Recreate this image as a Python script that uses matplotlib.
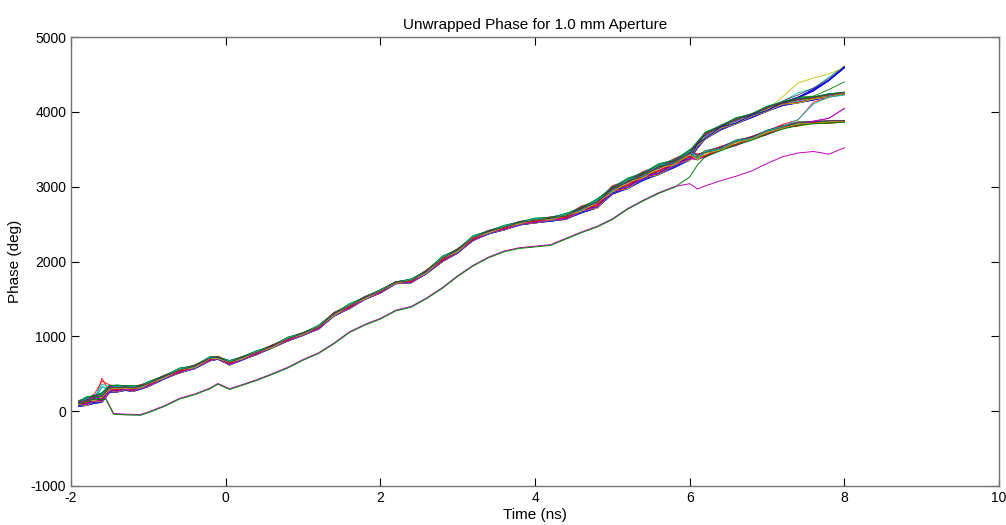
import numpy as np
import matplotlib
matplotlib.use('Agg')
import matplotlib.pyplot as plt

plt.rcParams['font.family'] = ['Liberation Sans', 'DejaVu Sans']
plt.rcParams['axes.unicode_minus'] = False

# main (upper) bundle
t_up = [-1.9, -1.8, -1.7, -1.6, -1.5, -1.4, -1.3, -1.2, -1.1, -1.0, -0.8, -0.6, -0.4,
        -0.2, -0.1, 0.05, 0.2, 0.4, 0.6, 0.8, 1.0, 1.2, 1.4, 1.6, 1.8, 2.0, 2.2, 2.4,
        2.6, 2.8, 3.0, 3.2, 3.4, 3.6, 3.8, 4.0, 4.2, 4.4, 4.6, 4.8, 5.0, 5.2, 5.4, 5.6, 5.8]
phase_up = [100, 130, 160, 180, 300, 300, 310, 300, 320, 360, 450, 540, 590,
            700, 710, 645, 700, 780, 860, 960, 1030, 1120, 1290, 1400, 1510, 1600, 1715, 1740,
            1860, 2030, 2140, 2310, 2390, 2450, 2510, 2545, 2565, 2600, 2690, 2770, 2950, 3040, 3140, 3230, 3310]
# width of the bundle along time and how the traces cross inside it (deg)
spread_up = [40, 50, 60, 60, 50, 40, 35, 35, 30, 30, 25, 25, 25, 25, 20, 25, 25, 20, 20, 20,
             20, 20, 25, 25, 20, 20, 15, 20, 25, 30, 30, 25, 25, 25, 25, 25, 30, 30, 45, 50,
             55, 60, 60, 60, 60]
twist_up = [20, -25, 30, -20, 15, -20, 10, -15, 20, -10, 15, -20, 15, -10, 15, -15, 10, -15, 20, -15,
            10, -15, 20, -20, 15, -10, 10, -15, 20, -20, 15, -20, 15, -15, 10, -20, 15, -25, 30, -30,
            35, -30, 30, -35, 30]

# lower pair of traces
t_low = [-1.9, -1.8, -1.7, -1.55, -1.45, -1.3, -1.1, -1.0, -0.8, -0.6, -0.4, -0.2, -0.1,
         0.05, 0.2, 0.4, 0.6, 0.8, 1.0, 1.2, 1.4, 1.6, 1.8, 2.0, 2.2, 2.4, 2.6, 2.8, 3.0,
         3.2, 3.4, 3.6, 3.8, 4.0, 4.2, 4.4, 4.6, 4.8, 5.0, 5.2, 5.4, 5.6, 5.8]
phase_low = [100, 130, 160, 160, -40, -50, -55, -20, 60, 160, 220, 300, 360,
             290, 340, 410, 490, 575, 680, 770, 900, 1050, 1150, 1230, 1340, 1390, 1505, 1640, 1800,
             1940, 2050, 2130, 2175, 2195, 2215, 2300, 2385, 2460, 2560, 2700, 2810, 2910, 2990]

# branch tails after the split near 6 ns
t_tail = [6.0, 6.1, 6.2, 6.4, 6.6, 6.8, 7.0, 7.2, 7.4, 7.6, 7.8, 8.0]
tail_top = [3420, 3560, 3680, 3790, 3880, 3950, 4040, 4120, 4220, 4300, 4440, 4600]
tail_mid = [3420, 3560, 3680, 3790, 3880, 3950, 4040, 4110, 4150, 4180, 4220, 4250]
tail_low = [3420, 3380, 3430, 3500, 3580, 3640, 3720, 3790, 3830, 3850, 3860, 3870]
tail_yel = [3420, 3560, 3680, 3790, 3880, 3960, 4060, 4220, 4420, 4470, 4530, 4600]
tail_drift = [3420, 3380, 3430, 3500, 3580, 3640, 3720, 3800, 3870, 4100, 4180, 4220]
tail_lowup = [3420, 3380, 3430, 3500, 3580, 3640, 3720, 3790, 3840, 3880, 3930, 4050]
tail_midhi = [3420, 3560, 3680, 3790, 3880, 3950, 4040, 4120, 4170, 4210, 4280, 4400]
tail_green = [3130, 3290, 3400, 3480, 3560, 3620, 3700, 3770, 3820, 3840, 3850, 3860]
tail_magenta = [3030, 2960, 3000, 3070, 3130, 3200, 3300, 3390, 3440, 3460, 3425, 3510]
spread_tail = [60, 50, 40, 35, 35, 30, 30, 30, 30, 25, 20, 15]
twist_tail = [-30, 30, -25, 20, -20, 15, -15, 15, -15, 10, -10, 5]

tails = {'T': tail_top, 'M': tail_mid, 'L': tail_low, 'Y': tail_yel,
         'D': tail_drift, 'U': tail_lowup, 'G': tail_midhi}

# which branch each upper trace ends in, and where it sits in the bundle
branch = list('MLMTMLM' 'MLDMLMT' 'MLTMMLM' 'TLMMLYM' 'TMLMUML' 'TGMLMML' 'TMLDULM')
off_a = [-0.5, 0.4, -0.9, 0.8, 0.1, -0.3, 0.6,
         -1.0, 0.0, 0.9, -0.6, 0.3, -0.1, 0.5,
         -0.8, 1.0, -0.4, 0.2, 0.7, -0.5, 0.4,
         -1.0, 0.0, 0.6, -0.2, 0.9, -0.9, 0.3,
         -0.6, 0.5, -0.1, 1.0, -0.4, 0.1, 0.8,
         -0.9, 0.4, -0.5, 0.2, 0.6, -0.7, 0.3,
         -0.3, 0.9, -0.1, 0.5, -0.6, 0.0, 0.4]
off_b = [0.7, -0.3, 0.2, -0.8, 0.5, 1.0, -0.6,
         0.1, -0.9, 0.4, 0.8, -0.2, -1.0, 0.6,
         0.3, -0.5, 0.9, -0.7, 0.0, 0.5, -0.4,
         0.2, 1.0, -0.8, 0.6, -0.1, 0.4, -0.9,
         0.8, -0.6, 0.3, -0.2, 0.9, -0.7, 0.1,
         0.5, -1.0, 0.7, -0.4, 0.2, 0.8, -0.5,
         1.0, -0.3, 0.6, -0.8, 0.4, -0.6, 0.2]
# early bump at -1.6 ns on a few traces
spike_trace = [2, 9, 3, 17, 10]
spike_value = [440, 400, 360, 330, 320]

colors = [(0, 0, 1), (0, 0.5, 0), (1, 0, 0), (0, 0.75, 0.75),
          (0.75, 0, 0.75), (0.75, 0.75, 0), (0.25, 0.25, 0.25)]

fig = plt.figure(figsize=(10.06, 5.25), dpi=100)
ax = fig.add_axes([0.0706, 0.0743, 0.9225, 0.8552])

t_all = t_up + t_tail
spread = np.array(spread_up + spread_tail, dtype=float)
twist = np.array(twist_up + twist_tail, dtype=float)
for i, b in enumerate(branch):
    y = np.array(phase_up + tails[b], dtype=float) + off_a[i] * spread + off_b[i] * twist
    if i in spike_trace:
        y[3] = spike_value[spike_trace.index(i)]
    ax.plot(t_all, y, color=colors[i % 7], lw=0.6)

# lower traces
ax.plot(t_low + t_tail, np.array(phase_low + tail_magenta) + 10, color=colors[4], lw=0.7)
ax.plot(t_low + t_tail, np.array(phase_low + tail_green), color=colors[1], lw=0.7)

ax.set_xlim(-2, 10)
ax.set_ylim(-1000, 5000)
ax.set_xticks([-2, 0, 2, 4, 6, 8, 10])
ax.set_yticks([-1000, 0, 1000, 2000, 3000, 4000, 5000])
ax.tick_params(direction='in', length=6, width=0.8, top=True, right=True, labelsize=10)
for s in ax.spines.values():
    s.set_color('0.45')
    s.set_linewidth(1.0)

ax.set_title('Unwrapped Phase for 1.0 mm Aperture', fontsize=11, pad=6)
ax.set_xlabel('Time (ns)', fontsize=11, labelpad=2)
ax.set_ylabel('Phase (deg)', fontsize=11, labelpad=6)

plt.savefig('out.png', dpi=100)
